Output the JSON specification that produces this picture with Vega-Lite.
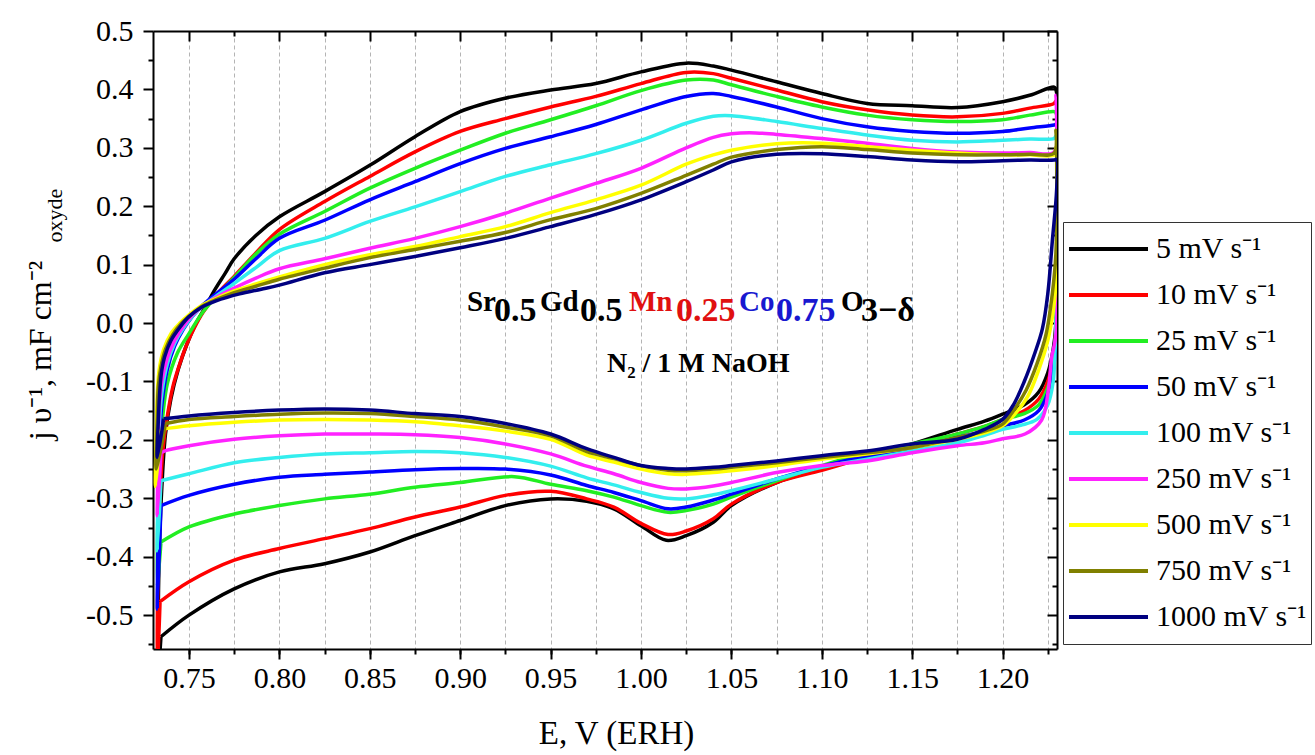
{
"$schema": "https://vega.github.io/schema/vega-lite/v6.json",
"width": 904, "height": 618,
"autosize": {"type": "none"},
"padding": {"left": 153, "top": 31, "right": 258, "bottom": 106},
"background": "white",
"config": {"view": {"stroke": null}, "font": "Liberation Serif",
  "axis": {"labelColor": "black", "titleColor": "black", "tickColor": "black", "domainColor": "black", "labelFont": "Liberation Serif", "titleFont": "Liberation Serif", "titleFontWeight": "normal"}},
"data": {"values": [
{"v":5,"E":0.7345,"j":-0.537},{"v":5,"E":0.733,"j":-0.6},{"v":5,"E":0.7335,"j":-0.4},{"v":5,"E":0.735,"j":-0.28},{"v":5,"E":0.737,"j":-0.19},{"v":5,"E":0.74,"j":-0.13},{"v":5,"E":0.744,"j":-0.08},{"v":5,"E":0.749,"j":-0.035},{"v":5,"E":0.754,"j":0.0},{"v":5,"E":0.7595,"j":0.03},{"v":5,"E":0.7645,"j":0.058},{"v":5,"E":0.77,"j":0.085},{"v":5,"E":0.775,"j":0.11},{"v":5,"E":0.787,"j":0.15},
{"v":5,"E":0.8,"j":0.182},{"v":5,"E":0.825,"j":0.225},{"v":5,"E":0.85,"j":0.27},{"v":5,"E":0.875,"j":0.319},{"v":5,"E":0.9,"j":0.362},{"v":5,"E":0.925,"j":0.385},{"v":5,"E":0.95,"j":0.399},{"v":5,"E":0.975,"j":0.41},{"v":5,"E":1.0,"j":0.43},{"v":5,"E":1.025,"j":0.445},{"v":5,"E":1.04,"j":0.44},{"v":5,"E":1.05,"j":0.433},{"v":5,"E":1.075,"j":0.413},{"v":5,"E":1.1,"j":0.393},{"v":5,"E":1.125,"j":0.376},{"v":5,"E":1.15,"j":0.372},{"v":5,"E":1.175,"j":0.369},{"v":5,"E":1.2,"j":0.379},{"v":5,"E":1.215,"j":0.39},{"v":5,"E":1.2285,"j":0.404},
{"v":5,"E":1.2295,"j":0.4},{"v":5,"E":1.2295,"j":0.0},{"v":5,"E":1.228,"j":-0.045},{"v":5,"E":1.225,"j":-0.085},{"v":5,"E":1.22,"j":-0.118},{"v":5,"E":1.212,"j":-0.14},{"v":5,"E":1.2,"j":-0.156},{"v":5,"E":1.19,"j":-0.168},{"v":5,"E":1.175,"j":-0.182},
{"v":5,"E":1.15,"j":-0.207},{"v":5,"E":1.125,"j":-0.228},{"v":5,"E":1.1,"j":-0.25},{"v":5,"E":1.075,"j":-0.273},{"v":5,"E":1.05,"j":-0.3125},{"v":5,"E":1.04,"j":-0.341},{"v":5,"E":1.025,"j":-0.364},{"v":5,"E":1.014,"j":-0.372},{"v":5,"E":1.0,"j":-0.347},{"v":5,"E":0.985,"j":-0.318},{"v":5,"E":0.97,"j":-0.305},{"v":5,"E":0.95,"j":-0.301},{"v":5,"E":0.925,"j":-0.3125},{"v":5,"E":0.9,"j":-0.338},{"v":5,"E":0.875,"j":-0.364},{"v":5,"E":0.85,"j":-0.392},{"v":5,"E":0.825,"j":-0.412},{"v":5,"E":0.8,"j":-0.426},{"v":5,"E":0.775,"j":-0.455},{"v":5,"E":0.75,"j":-0.5},{"v":5,"E":0.7345,"j":-0.537},

{"v":10,"E":0.734,"j":-0.477},{"v":10,"E":0.7325,"j":-0.6},{"v":10,"E":0.733,"j":-0.4},{"v":10,"E":0.734,"j":-0.3},{"v":10,"E":0.7355,"j":-0.22},{"v":10,"E":0.738,"j":-0.16},{"v":10,"E":0.741,"j":-0.11},{"v":10,"E":0.745,"j":-0.069},{"v":10,"E":0.749,"j":-0.035},{"v":10,"E":0.753,"j":-0.008},{"v":10,"E":0.7577,"j":0.018},{"v":10,"E":0.765,"j":0.048},{"v":10,"E":0.775,"j":0.08},{"v":10,"E":0.787,"j":0.12},
{"v":10,"E":0.8,"j":0.16},{"v":10,"E":0.825,"j":0.208},{"v":10,"E":0.85,"j":0.251},{"v":10,"E":0.875,"j":0.293},{"v":10,"E":0.9,"j":0.328},{"v":10,"E":0.925,"j":0.35},{"v":10,"E":0.95,"j":0.37},{"v":10,"E":0.975,"j":0.388},{"v":10,"E":1.0,"j":0.41},{"v":10,"E":1.025,"j":0.429},{"v":10,"E":1.04,"j":0.427},{"v":10,"E":1.05,"j":0.419},{"v":10,"E":1.075,"j":0.399},{"v":10,"E":1.1,"j":0.379},{"v":10,"E":1.125,"j":0.365},{"v":10,"E":1.15,"j":0.356},{"v":10,"E":1.175,"j":0.353},{"v":10,"E":1.2,"j":0.359},{"v":10,"E":1.215,"j":0.368},{"v":10,"E":1.2285,"j":0.376},
{"v":10,"E":1.2295,"j":0.38},{"v":10,"E":1.2295,"j":-0.01},{"v":10,"E":1.228,"j":-0.06},{"v":10,"E":1.225,"j":-0.1},{"v":10,"E":1.22,"j":-0.13},{"v":10,"E":1.212,"j":-0.15},{"v":10,"E":1.2,"j":-0.165},{"v":10,"E":1.19,"j":-0.177},{"v":10,"E":1.175,"j":-0.19},
{"v":10,"E":1.15,"j":-0.211},{"v":10,"E":1.125,"j":-0.23},{"v":10,"E":1.1,"j":-0.252},{"v":10,"E":1.075,"j":-0.273},{"v":10,"E":1.05,"j":-0.31},{"v":10,"E":1.04,"j":-0.335},{"v":10,"E":1.025,"j":-0.356},{"v":10,"E":1.015,"j":-0.362},{"v":10,"E":1.0,"j":-0.343},{"v":10,"E":0.985,"j":-0.315},{"v":10,"E":0.97,"j":-0.301},{"v":10,"E":0.95,"j":-0.288},{"v":10,"E":0.925,"j":-0.295},{"v":10,"E":0.9,"j":-0.315},{"v":10,"E":0.875,"j":-0.332},{"v":10,"E":0.85,"j":-0.352},{"v":10,"E":0.825,"j":-0.369},{"v":10,"E":0.8,"j":-0.386},{"v":10,"E":0.775,"j":-0.406},{"v":10,"E":0.75,"j":-0.443},{"v":10,"E":0.734,"j":-0.477},

{"v":25,"E":0.7345,"j":-0.375},{"v":25,"E":0.7325,"j":-0.45},{"v":25,"E":0.733,"j":-0.3},{"v":25,"E":0.734,"j":-0.22},{"v":25,"E":0.7355,"j":-0.16},{"v":25,"E":0.738,"j":-0.104},{"v":25,"E":0.7435,"j":-0.052},{"v":25,"E":0.75,"j":-0.018},{"v":25,"E":0.7577,"j":0.019},{"v":25,"E":0.765,"j":0.045},{"v":25,"E":0.775,"j":0.078},{"v":25,"E":0.787,"j":0.118},
{"v":25,"E":0.8,"j":0.152},{"v":25,"E":0.825,"j":0.191},{"v":25,"E":0.85,"j":0.231},{"v":25,"E":0.875,"j":0.265},{"v":25,"E":0.9,"j":0.296},{"v":25,"E":0.925,"j":0.325},{"v":25,"E":0.95,"j":0.348},{"v":25,"E":0.975,"j":0.372},{"v":25,"E":1.0,"j":0.398},{"v":25,"E":1.025,"j":0.416},{"v":25,"E":1.04,"j":0.416},{"v":25,"E":1.05,"j":0.408},{"v":25,"E":1.075,"j":0.388},{"v":25,"E":1.1,"j":0.37},{"v":25,"E":1.125,"j":0.356},{"v":25,"E":1.15,"j":0.348},{"v":25,"E":1.175,"j":0.345},{"v":25,"E":1.2,"j":0.348},{"v":25,"E":1.215,"j":0.356},{"v":25,"E":1.2285,"j":0.362},
{"v":25,"E":1.2295,"j":0.36},{"v":25,"E":1.2295,"j":-0.02},{"v":25,"E":1.228,"j":-0.07},{"v":25,"E":1.225,"j":-0.11},{"v":25,"E":1.22,"j":-0.14},{"v":25,"E":1.212,"j":-0.155},{"v":25,"E":1.2,"j":-0.165},{"v":25,"E":1.19,"j":-0.177},{"v":25,"E":1.175,"j":-0.19},
{"v":25,"E":1.15,"j":-0.207},{"v":25,"E":1.125,"j":-0.222},{"v":25,"E":1.1,"j":-0.244},{"v":25,"E":1.075,"j":-0.27},{"v":25,"E":1.05,"j":-0.298},{"v":25,"E":1.04,"j":-0.31},{"v":25,"E":1.025,"j":-0.321},{"v":25,"E":1.015,"j":-0.324},{"v":25,"E":1.0,"j":-0.3125},{"v":25,"E":0.985,"j":-0.298},{"v":25,"E":0.97,"j":-0.287},{"v":25,"E":0.95,"j":-0.276},{"v":25,"E":0.93,"j":-0.263},{"v":25,"E":0.9,"j":-0.273},{"v":25,"E":0.875,"j":-0.281},{"v":25,"E":0.85,"j":-0.293},{"v":25,"E":0.825,"j":-0.301},{"v":25,"E":0.8,"j":-0.3125},{"v":25,"E":0.775,"j":-0.327},{"v":25,"E":0.75,"j":-0.349},{"v":25,"E":0.7345,"j":-0.375},

{"v":50,"E":0.7345,"j":-0.3125},{"v":50,"E":0.7325,"j":-0.49},{"v":50,"E":0.733,"j":-0.33},{"v":50,"E":0.7335,"j":-0.22},{"v":50,"E":0.735,"j":-0.14},{"v":50,"E":0.738,"j":-0.08},{"v":50,"E":0.742,"j":-0.04},{"v":50,"E":0.747,"j":-0.01},{"v":50,"E":0.752,"j":0.012},{"v":50,"E":0.758,"j":0.032},{"v":50,"E":0.765,"j":0.05},{"v":50,"E":0.775,"j":0.075},{"v":50,"E":0.787,"j":0.11},
{"v":50,"E":0.8,"j":0.145},{"v":50,"E":0.825,"j":0.176},{"v":50,"E":0.85,"j":0.211},{"v":50,"E":0.875,"j":0.242},{"v":50,"E":0.9,"j":0.273},{"v":50,"E":0.925,"j":0.299},{"v":50,"E":0.95,"j":0.319},{"v":50,"E":0.975,"j":0.34},{"v":50,"E":1.0,"j":0.365},{"v":50,"E":1.025,"j":0.388},{"v":50,"E":1.04,"j":0.393},{"v":50,"E":1.05,"j":0.388},{"v":50,"E":1.075,"j":0.37},{"v":50,"E":1.1,"j":0.35},{"v":50,"E":1.125,"j":0.336},{"v":50,"E":1.15,"j":0.328},{"v":50,"E":1.175,"j":0.325},{"v":50,"E":1.2,"j":0.328},{"v":50,"E":1.215,"j":0.334},{"v":50,"E":1.2285,"j":0.339},
{"v":50,"E":1.2295,"j":0.34},{"v":50,"E":1.2295,"j":-0.03},{"v":50,"E":1.228,"j":-0.08},{"v":50,"E":1.225,"j":-0.12},{"v":50,"E":1.22,"j":-0.15},{"v":50,"E":1.212,"j":-0.166},{"v":50,"E":1.2,"j":-0.176},{"v":50,"E":1.19,"j":-0.185},{"v":50,"E":1.175,"j":-0.196},
{"v":50,"E":1.15,"j":-0.216},{"v":50,"E":1.125,"j":-0.228},{"v":50,"E":1.1,"j":-0.245},{"v":50,"E":1.075,"j":-0.267},{"v":50,"E":1.05,"j":-0.293},{"v":50,"E":1.04,"j":-0.303},{"v":50,"E":1.025,"j":-0.315},{"v":50,"E":1.015,"j":-0.318},{"v":50,"E":1.0,"j":-0.304},{"v":50,"E":0.985,"j":-0.29},{"v":50,"E":0.97,"j":-0.278},{"v":50,"E":0.95,"j":-0.26},{"v":50,"E":0.925,"j":-0.25},{"v":50,"E":0.9,"j":-0.249},{"v":50,"E":0.875,"j":-0.251},{"v":50,"E":0.85,"j":-0.255},{"v":50,"E":0.825,"j":-0.259},{"v":50,"E":0.8,"j":-0.264},{"v":50,"E":0.775,"j":-0.276},{"v":50,"E":0.75,"j":-0.295},{"v":50,"E":0.7345,"j":-0.3125},

{"v":100,"E":0.7345,"j":-0.27},{"v":100,"E":0.7325,"j":-0.39},{"v":100,"E":0.733,"j":-0.26},{"v":100,"E":0.7335,"j":-0.18},{"v":100,"E":0.735,"j":-0.12},{"v":100,"E":0.738,"j":-0.07},{"v":100,"E":0.742,"j":-0.035},{"v":100,"E":0.747,"j":-0.008},{"v":100,"E":0.752,"j":0.012},{"v":100,"E":0.758,"j":0.03},{"v":100,"E":0.765,"j":0.046},{"v":100,"E":0.775,"j":0.068},{"v":100,"E":0.787,"j":0.095},
{"v":100,"E":0.8,"j":0.124},{"v":100,"E":0.825,"j":0.145},{"v":100,"E":0.85,"j":0.174},{"v":100,"E":0.875,"j":0.199},{"v":100,"E":0.9,"j":0.225},{"v":100,"E":0.925,"j":0.251},{"v":100,"E":0.95,"j":0.271},{"v":100,"E":0.975,"j":0.29},{"v":100,"E":1.0,"j":0.313},{"v":100,"E":1.025,"j":0.342},{"v":100,"E":1.04,"j":0.354},{"v":100,"E":1.05,"j":0.355},{"v":100,"E":1.075,"j":0.345},{"v":100,"E":1.1,"j":0.333},{"v":100,"E":1.125,"j":0.322},{"v":100,"E":1.15,"j":0.313},{"v":100,"E":1.175,"j":0.31},{"v":100,"E":1.2,"j":0.313},{"v":100,"E":1.215,"j":0.315},{"v":100,"E":1.2285,"j":0.316},
{"v":100,"E":1.2295,"j":0.32},{"v":100,"E":1.2295,"j":0.0},{"v":100,"E":1.2288,"j":-0.06},{"v":100,"E":1.228,"j":-0.1},{"v":100,"E":1.225,"j":-0.14},{"v":100,"E":1.219,"j":-0.165},{"v":100,"E":1.21,"j":-0.175},{"v":100,"E":1.2,"j":-0.182},{"v":100,"E":1.19,"j":-0.192},{"v":100,"E":1.175,"j":-0.205},
{"v":100,"E":1.15,"j":-0.219},{"v":100,"E":1.125,"j":-0.233},{"v":100,"E":1.1,"j":-0.247},{"v":100,"E":1.075,"j":-0.267},{"v":100,"E":1.05,"j":-0.287},{"v":100,"E":1.04,"j":-0.294},{"v":100,"E":1.025,"j":-0.301},{"v":100,"E":1.015,"j":-0.3},{"v":100,"E":1.0,"j":-0.29},{"v":100,"E":0.985,"j":-0.277},{"v":100,"E":0.97,"j":-0.265},{"v":100,"E":0.95,"j":-0.245},{"v":100,"E":0.925,"j":-0.23},{"v":100,"E":0.9,"j":-0.222},{"v":100,"E":0.875,"j":-0.22},{"v":100,"E":0.85,"j":-0.222},{"v":100,"E":0.825,"j":-0.224},{"v":100,"E":0.8,"j":-0.23},{"v":100,"E":0.775,"j":-0.239},{"v":100,"E":0.75,"j":-0.258},{"v":100,"E":0.7345,"j":-0.27},

{"v":250,"E":0.7345,"j":-0.222},{"v":250,"E":0.7325,"j":-0.33},{"v":250,"E":0.733,"j":-0.22},{"v":250,"E":0.7335,"j":-0.15},{"v":250,"E":0.735,"j":-0.1},{"v":250,"E":0.738,"j":-0.06},{"v":250,"E":0.742,"j":-0.03},{"v":250,"E":0.747,"j":-0.005},{"v":250,"E":0.752,"j":0.014},{"v":250,"E":0.758,"j":0.03},{"v":250,"E":0.765,"j":0.044},{"v":250,"E":0.775,"j":0.06},{"v":250,"E":0.787,"j":0.077},
{"v":250,"E":0.8,"j":0.093},{"v":250,"E":0.825,"j":0.11},{"v":250,"E":0.85,"j":0.128},{"v":250,"E":0.875,"j":0.145},{"v":250,"E":0.9,"j":0.165},{"v":250,"E":0.925,"j":0.188},{"v":250,"E":0.95,"j":0.214},{"v":250,"E":0.975,"j":0.239},{"v":250,"E":1.0,"j":0.265},{"v":250,"E":1.025,"j":0.3},{"v":250,"E":1.04,"j":0.318},{"v":250,"E":1.05,"j":0.324},{"v":250,"E":1.06,"j":0.326},{"v":250,"E":1.075,"j":0.323},{"v":250,"E":1.1,"j":0.316},{"v":250,"E":1.125,"j":0.308},{"v":250,"E":1.15,"j":0.299},{"v":250,"E":1.175,"j":0.293},{"v":250,"E":1.2,"j":0.291},{"v":250,"E":1.215,"j":0.292},{"v":250,"E":1.2285,"j":0.293},
{"v":250,"E":1.2295,"j":0.39},{"v":250,"E":1.2295,"j":-0.02},{"v":250,"E":1.2271,"j":-0.06},{"v":250,"E":1.2253,"j":-0.115},{"v":250,"E":1.2216,"j":-0.166},{"v":250,"E":1.2124,"j":-0.19},{"v":250,"E":1.2,"j":-0.198},{"v":250,"E":1.19,"j":-0.205},{"v":250,"E":1.175,"j":-0.21},
{"v":250,"E":1.15,"j":-0.222},{"v":250,"E":1.125,"j":-0.236},{"v":250,"E":1.1,"j":-0.244},{"v":250,"E":1.075,"j":-0.256},{"v":250,"E":1.05,"j":-0.273},{"v":250,"E":1.04,"j":-0.279},{"v":250,"E":1.025,"j":-0.284},{"v":250,"E":1.015,"j":-0.283},{"v":250,"E":1.0,"j":-0.273},{"v":250,"E":0.985,"j":-0.258},{"v":250,"E":0.97,"j":-0.245},{"v":250,"E":0.95,"j":-0.224},{"v":250,"E":0.925,"j":-0.207},{"v":250,"E":0.9,"j":-0.196},{"v":250,"E":0.875,"j":-0.191},{"v":250,"E":0.85,"j":-0.19},{"v":250,"E":0.825,"j":-0.19},{"v":250,"E":0.8,"j":-0.193},{"v":250,"E":0.775,"j":-0.199},{"v":250,"E":0.75,"j":-0.21},{"v":250,"E":0.7375,"j":-0.218},{"v":250,"E":0.7345,"j":-0.222},

{"v":500,"E":0.7345,"j":-0.182},{"v":500,"E":0.7315,"j":-0.28},{"v":500,"E":0.732,"j":-0.18},{"v":500,"E":0.7325,"j":-0.12},{"v":500,"E":0.7335,"j":-0.08},{"v":500,"E":0.736,"j":-0.045},{"v":500,"E":0.74,"j":-0.018},{"v":500,"E":0.745,"j":0.0},{"v":500,"E":0.75,"j":0.014},{"v":500,"E":0.757,"j":0.03},{"v":500,"E":0.765,"j":0.042},{"v":500,"E":0.775,"j":0.055},{"v":500,"E":0.787,"j":0.067},
{"v":500,"E":0.8,"j":0.079},{"v":500,"E":0.825,"j":0.1},{"v":500,"E":0.85,"j":0.117},{"v":500,"E":0.875,"j":0.131},{"v":500,"E":0.9,"j":0.148},{"v":500,"E":0.925,"j":0.165},{"v":500,"E":0.95,"j":0.189},{"v":500,"E":0.975,"j":0.211},{"v":500,"E":1.0,"j":0.236},{"v":500,"E":1.025,"j":0.272},{"v":500,"E":1.04,"j":0.288},{"v":500,"E":1.05,"j":0.296},{"v":500,"E":1.075,"j":0.307},{"v":500,"E":1.1,"j":0.308},{"v":500,"E":1.125,"j":0.302},{"v":500,"E":1.15,"j":0.296},{"v":500,"E":1.175,"j":0.291},{"v":500,"E":1.2,"j":0.288},{"v":500,"E":1.215,"j":0.288},{"v":500,"E":1.2285,"j":0.288},
{"v":500,"E":1.2295,"j":0.3},{"v":500,"E":1.2295,"j":0.07},{"v":500,"E":1.228,"j":0.02},{"v":500,"E":1.225,"j":-0.03},{"v":500,"E":1.22,"j":-0.08},{"v":500,"E":1.214,"j":-0.125},{"v":500,"E":1.207,"j":-0.155},{"v":500,"E":1.2,"j":-0.176},{"v":500,"E":1.19,"j":-0.188},{"v":500,"E":1.175,"j":-0.199},
{"v":500,"E":1.15,"j":-0.213},{"v":500,"E":1.125,"j":-0.224},{"v":500,"E":1.1,"j":-0.233},{"v":500,"E":1.075,"j":-0.244},{"v":500,"E":1.05,"j":-0.253},{"v":500,"E":1.04,"j":-0.256},{"v":500,"E":1.025,"j":-0.259},{"v":500,"E":1.015,"j":-0.258},{"v":500,"E":1.0,"j":-0.25},{"v":500,"E":0.985,"j":-0.238},{"v":500,"E":0.97,"j":-0.226},{"v":500,"E":0.95,"j":-0.199},{"v":500,"E":0.925,"j":-0.185},{"v":500,"E":0.9,"j":-0.176},{"v":500,"E":0.875,"j":-0.169},{"v":500,"E":0.85,"j":-0.166},{"v":500,"E":0.825,"j":-0.165},{"v":500,"E":0.8,"j":-0.166},{"v":500,"E":0.775,"j":-0.17},{"v":500,"E":0.75,"j":-0.176},{"v":500,"E":0.7345,"j":-0.182},

{"v":750,"E":0.737,"j":-0.172},{"v":750,"E":0.732,"j":-0.25},{"v":750,"E":0.7325,"j":-0.16},{"v":750,"E":0.733,"j":-0.11},{"v":750,"E":0.7345,"j":-0.075},{"v":750,"E":0.737,"j":-0.045},{"v":750,"E":0.741,"j":-0.02},{"v":750,"E":0.746,"j":0.0},{"v":750,"E":0.751,"j":0.014},{"v":750,"E":0.758,"j":0.03},{"v":750,"E":0.765,"j":0.04},{"v":750,"E":0.775,"j":0.052},{"v":750,"E":0.787,"j":0.063},
{"v":750,"E":0.8,"j":0.075},{"v":750,"E":0.825,"j":0.094},{"v":750,"E":0.85,"j":0.112},{"v":750,"E":0.875,"j":0.126},{"v":750,"E":0.9,"j":0.14},{"v":750,"E":0.925,"j":0.155},{"v":750,"E":0.95,"j":0.177},{"v":750,"E":0.975,"j":0.196},{"v":750,"E":1.0,"j":0.222},{"v":750,"E":1.025,"j":0.253},{"v":750,"E":1.04,"j":0.272},{"v":750,"E":1.05,"j":0.284},{"v":750,"E":1.075,"j":0.297},{"v":750,"E":1.1,"j":0.302},{"v":750,"E":1.125,"j":0.297},{"v":750,"E":1.15,"j":0.291},{"v":750,"E":1.175,"j":0.288},{"v":750,"E":1.2,"j":0.288},{"v":750,"E":1.215,"j":0.289},{"v":750,"E":1.2285,"j":0.291},
{"v":750,"E":1.2295,"j":0.33},{"v":750,"E":1.2295,"j":0.12},{"v":750,"E":1.2275,"j":0.05},{"v":750,"E":1.224,"j":-0.02},{"v":750,"E":1.219,"j":-0.07},{"v":750,"E":1.213,"j":-0.115},{"v":750,"E":1.206,"j":-0.15},{"v":750,"E":1.2,"j":-0.173},{"v":750,"E":1.19,"j":-0.185},{"v":750,"E":1.175,"j":-0.196},
{"v":750,"E":1.15,"j":-0.213},{"v":750,"E":1.125,"j":-0.222},{"v":750,"E":1.1,"j":-0.23},{"v":750,"E":1.075,"j":-0.239},{"v":750,"E":1.05,"j":-0.247},{"v":750,"E":1.04,"j":-0.25},{"v":750,"E":1.025,"j":-0.253},{"v":750,"E":1.015,"j":-0.252},{"v":750,"E":1.0,"j":-0.244},{"v":750,"E":0.985,"j":-0.232},{"v":750,"E":0.97,"j":-0.22},{"v":750,"E":0.95,"j":-0.193},{"v":750,"E":0.925,"j":-0.178},{"v":750,"E":0.9,"j":-0.166},{"v":750,"E":0.875,"j":-0.16},{"v":750,"E":0.85,"j":-0.155},{"v":750,"E":0.825,"j":-0.154},{"v":750,"E":0.8,"j":-0.156},{"v":750,"E":0.775,"j":-0.16},{"v":750,"E":0.75,"j":-0.165},{"v":750,"E":0.737,"j":-0.172},

{"v":1000,"E":0.736,"j":-0.164},{"v":1000,"E":0.7325,"j":-0.23},{"v":1000,"E":0.733,"j":-0.17},{"v":1000,"E":0.734,"j":-0.11},{"v":1000,"E":0.735,"j":-0.08},{"v":1000,"E":0.7365,"j":-0.058},{"v":1000,"E":0.74,"j":-0.03},{"v":1000,"E":0.745,"j":-0.007},{"v":1000,"E":0.75,"j":0.011},{"v":1000,"E":0.757,"j":0.027},{"v":1000,"E":0.765,"j":0.038},{"v":1000,"E":0.778,"j":0.05},{"v":1000,"E":0.79,"j":0.058},
{"v":1000,"E":0.8,"j":0.065},{"v":1000,"E":0.825,"j":0.086},{"v":1000,"E":0.85,"j":0.1},{"v":1000,"E":0.875,"j":0.114},{"v":1000,"E":0.9,"j":0.129},{"v":1000,"E":0.925,"j":0.145},{"v":1000,"E":0.95,"j":0.165},{"v":1000,"E":0.975,"j":0.186},{"v":1000,"E":1.0,"j":0.211},{"v":1000,"E":1.025,"j":0.242},{"v":1000,"E":1.04,"j":0.262},{"v":1000,"E":1.05,"j":0.276},{"v":1000,"E":1.075,"j":0.289},{"v":1000,"E":1.1,"j":0.29},{"v":1000,"E":1.125,"j":0.285},{"v":1000,"E":1.15,"j":0.279},{"v":1000,"E":1.175,"j":0.276},{"v":1000,"E":1.2,"j":0.278},{"v":1000,"E":1.215,"j":0.279},{"v":1000,"E":1.2285,"j":0.279},
{"v":1000,"E":1.2299,"j":0.28},{"v":1000,"E":1.2299,"j":0.228},{"v":1000,"E":1.2275,"j":0.14},{"v":1000,"E":1.225,"j":0.05},{"v":1000,"E":1.222,"j":-0.01},{"v":1000,"E":1.218,"j":-0.05},{"v":1000,"E":1.212,"j":-0.1},{"v":1000,"E":1.206,"j":-0.14},{"v":1000,"E":1.2,"j":-0.165},{"v":1000,"E":1.19,"j":-0.182},{"v":1000,"E":1.175,"j":-0.199},
{"v":1000,"E":1.15,"j":-0.207},{"v":1000,"E":1.125,"j":-0.219},{"v":1000,"E":1.1,"j":-0.227},{"v":1000,"E":1.075,"j":-0.236},{"v":1000,"E":1.05,"j":-0.244},{"v":1000,"E":1.04,"j":-0.247},{"v":1000,"E":1.025,"j":-0.25},{"v":1000,"E":1.015,"j":-0.249},{"v":1000,"E":1.0,"j":-0.244},{"v":1000,"E":0.985,"j":-0.23},{"v":1000,"E":0.97,"j":-0.215},{"v":1000,"E":0.95,"j":-0.19},{"v":1000,"E":0.925,"j":-0.172},{"v":1000,"E":0.9,"j":-0.16},{"v":1000,"E":0.875,"j":-0.155},{"v":1000,"E":0.85,"j":-0.149},{"v":1000,"E":0.825,"j":-0.147},{"v":1000,"E":0.8,"j":-0.149},{"v":1000,"E":0.775,"j":-0.153},{"v":1000,"E":0.75,"j":-0.159},{"v":1000,"E":0.736,"j":-0.164}
]},
"layer": [
{
  "data": {"values": [{}]},
  "mark": {"type": "point", "opacity": 0},
  "encoding": {
    "x": {"datum": 0.9, "type": "quantitative", "scale": {"domain": [0.7301, 1.2301], "nice": false, "zero": false},
      "axis": {"orient": "bottom", "values": [0.75,0.775,0.8,0.825,0.85,0.875,0.9,0.925,0.95,0.975,1.0,1.025,1.05,1.075,1.1,1.125,1.15,1.175,1.2,1.225], "labels": false, "domain": false, "tickSize": 5, "tickWidth": 2, "grid": true, "gridDash": [4, 3], "gridColor": "#b4b4b4", "gridWidth": 1, "title": null}},
    "y": {"datum": 0, "type": "quantitative", "scale": {"domain": [-0.558, 0.5], "nice": false, "zero": false},
      "axis": {"orient": "left", "values": [-0.55,-0.45,-0.35,-0.25,-0.15,-0.05,0.05,0.15,0.25,0.35,0.45], "labels": false, "domain": false, "tickSize": 5, "tickWidth": 2, "grid": false,
        "title": "oxyde", "titleFontSize": 22, "titleAngle": 270, "titleX": -99, "titleY": 184, "titleAlign": "center", "titleBaseline": "middle"}}
  }
},
{
  "data": {"values": [{}]},
  "mark": {"type": "point", "opacity": 0},
  "encoding": {
    "x": {"datum": 0.9, "type": "quantitative", "scale": {"domain": [0.7301, 1.2301], "nice": false, "zero": false},
      "axis": {"orient": "top", "values": [0.775,0.825,0.875,0.925,0.975,1.025,1.075,1.125,1.175,1.225], "labels": false, "domain": false, "tickSize": -5, "tickWidth": 2, "grid": false, "title": null}},
    "y": {"datum": 0, "type": "quantitative", "scale": {"domain": [-0.558, 0.5], "nice": false, "zero": false},
      "axis": {"orient": "right", "values": [-0.55,-0.45,-0.35,-0.25,-0.15,-0.05,0.05,0.15,0.25,0.35,0.45], "labels": false, "domain": false, "tickSize": -5, "tickWidth": 2, "grid": false, "title": null}}
  }
},
{
  "data": {"values": [{}]},
  "mark": {"type": "point", "opacity": 0},
  "encoding": {
    "x": {"datum": 0.9, "type": "quantitative", "scale": {"domain": [0.7301, 1.2301], "nice": false, "zero": false},
      "axis": {"orient": "top", "values": [0.75,0.8,0.85,0.9,0.95,1.0,1.05,1.1,1.15,1.2], "labels": false, "domain": true, "domainWidth": 2, "tickSize": -10, "tickWidth": 2, "grid": false, "title": null}},
    "y": {"datum": 0, "type": "quantitative", "scale": {"domain": [-0.558, 0.5], "nice": false, "zero": false},
      "axis": {"orient": "right", "values": [-0.5,-0.4,-0.3,-0.2,-0.1,0,0.1,0.2,0.3,0.4,0.5], "labels": false, "domain": true, "domainWidth": 2, "tickSize": -10, "tickWidth": 2, "grid": false, "title": null}}
  }
},
{
  "mark": {"type": "line", "strokeWidth": 3.5, "clip": true, "strokeJoin": "round", "interpolate": "catmull-rom"},
  "encoding": {
    "x": {"field": "E", "type": "quantitative", "scale": {"domain": [0.7301, 1.2301], "nice": false, "zero": false},
      "axis": {"orient": "bottom", "values": [0.75,0.8,0.85,0.9,0.95,1.0,1.05,1.1,1.15,1.2], "format": ".2f", "labelFontSize": 30, "labelPadding": 4, "tickSize": 10, "tickWidth": 2, "domain": true, "domainWidth": 2, "grid": false,
        "title": "E, V (ERH)", "titleFontSize": 33, "titleX": 463, "titleY": 84, "titleAlign": "center", "titleBaseline": "middle"}},
    "y": {"field": "j", "type": "quantitative", "scale": {"domain": [-0.558, 0.5], "nice": false, "zero": false},
      "axis": {"orient": "left", "values": [-0.5,-0.4,-0.3,-0.2,-0.1,0,0.1,0.2,0.3,0.4,0.5], "labelExpr": "replace(format(datum.value, '.1f'), '\u2212', '-')", "labelFontSize": 30, "labelPadding": 10, "tickSize": 10, "tickWidth": 2, "domain": true, "domainWidth": 2, "grid": false,
        "title": "j υ⁻¹, mF cm⁻²", "titleFontSize": 32, "titleAngle": 270, "titleX": -113, "titleY": 319, "titleAlign": "center", "titleBaseline": "middle"}},
    "color": {"field": "v", "type": "nominal",
      "scale": {"domain": [5,10,25,50,100,250,500,750,1000], "range": ["#000000","#ff0000","#22ee22","#0000ff","#33eeee","#ff22ff","#ffff00","#808000","#000080"]},
      "legend": {"orient": "none", "legendX": 910, "legendY": 191, "title": null, "symbolType": "stroke", "symbolSize": 6241, "symbolStrokeWidth": 4,
        "labelExpr": "datum.label + ' mV s⁻¹'", "labelFontSize": 30, "labelFont": "Liberation Serif", "labelColor": "black", "labelOffset": 6, "labelLimit": 400,
        "clipHeight": 46, "rowPadding": 0, "padding": 4, "strokeColor": "#333333", "fillColor": "white"}},
    "order": {"value": null}
  }
},
{"data": {"values": [{}]}, "mark": {"type": "text", "align": "left", "baseline": "alphabetic", "font": "Liberation Serif", "fontWeight": "bold", "fontSize": 29, "color": "black"},
 "encoding": {"x": {"datum": 0.90376, "type": "quantitative", "scale": {"domain": [0.7301, 1.2301], "nice": false, "zero": false}, "axis": null}, "y": {"datum": 0.0205, "type": "quantitative", "scale": {"domain": [-0.558, 0.5], "nice": false, "zero": false}, "axis": null}, "text": {"value": "Sr"}}},
{"data": {"values": [{}]}, "mark": {"type": "text", "align": "left", "baseline": "alphabetic", "font": "Liberation Serif", "fontWeight": "bold", "fontSize": 34, "color": "black"},
 "encoding": {"x": {"datum": 0.9187, "type": "quantitative", "scale": {"domain": [0.7301, 1.2301], "nice": false, "zero": false}, "axis": null}, "y": {"datum": 0.0034, "type": "quantitative", "scale": {"domain": [-0.558, 0.5], "nice": false, "zero": false}, "axis": null}, "text": {"value": "0.5"}}},
{"data": {"values": [{}]}, "mark": {"type": "text", "align": "left", "baseline": "alphabetic", "font": "Liberation Serif", "fontWeight": "bold", "fontSize": 29, "color": "black"},
 "encoding": {"x": {"datum": 0.94414, "type": "quantitative", "scale": {"domain": [0.7301, 1.2301], "nice": false, "zero": false}, "axis": null}, "y": {"datum": 0.0205, "type": "quantitative", "scale": {"domain": [-0.558, 0.5], "nice": false, "zero": false}, "axis": null}, "text": {"value": "Gd"}}},
{"data": {"values": [{}]}, "mark": {"type": "text", "align": "left", "baseline": "alphabetic", "font": "Liberation Serif", "fontWeight": "bold", "fontSize": 34, "color": "black"},
 "encoding": {"x": {"datum": 0.96626, "type": "quantitative", "scale": {"domain": [0.7301, 1.2301], "nice": false, "zero": false}, "axis": null}, "y": {"datum": 0.0034, "type": "quantitative", "scale": {"domain": [-0.558, 0.5], "nice": false, "zero": false}, "axis": null}, "text": {"value": "0.5"}}},
{"data": {"values": [{}]}, "mark": {"type": "text", "align": "left", "baseline": "alphabetic", "font": "Liberation Serif", "fontWeight": "bold", "fontSize": 29, "color": "#e01010"},
 "encoding": {"x": {"datum": 0.99336, "type": "quantitative", "scale": {"domain": [0.7301, 1.2301], "nice": false, "zero": false}, "axis": null}, "y": {"datum": 0.0205, "type": "quantitative", "scale": {"domain": [-0.558, 0.5], "nice": false, "zero": false}, "axis": null}, "text": {"value": "Mn"}}},
{"data": {"values": [{}]}, "mark": {"type": "text", "align": "left", "baseline": "alphabetic", "font": "Liberation Serif", "fontWeight": "bold", "fontSize": 34, "color": "#e01010"},
 "encoding": {"x": {"datum": 1.01936, "type": "quantitative", "scale": {"domain": [0.7301, 1.2301], "nice": false, "zero": false}, "axis": null}, "y": {"datum": 0.0034, "type": "quantitative", "scale": {"domain": [-0.558, 0.5], "nice": false, "zero": false}, "axis": null}, "text": {"value": "0.25"}}},
{"data": {"values": [{}]}, "mark": {"type": "text", "align": "left", "baseline": "alphabetic", "font": "Liberation Serif", "fontWeight": "bold", "fontSize": 29, "color": "#1818d0"},
 "encoding": {"x": {"datum": 1.0542, "type": "quantitative", "scale": {"domain": [0.7301, 1.2301], "nice": false, "zero": false}, "axis": null}, "y": {"datum": 0.0205, "type": "quantitative", "scale": {"domain": [-0.558, 0.5], "nice": false, "zero": false}, "axis": null}, "text": {"value": "Co"}}},
{"data": {"values": [{}]}, "mark": {"type": "text", "align": "left", "baseline": "alphabetic", "font": "Liberation Serif", "fontWeight": "bold", "fontSize": 34, "color": "#1818d0"},
 "encoding": {"x": {"datum": 1.07467, "type": "quantitative", "scale": {"domain": [0.7301, 1.2301], "nice": false, "zero": false}, "axis": null}, "y": {"datum": 0.0034, "type": "quantitative", "scale": {"domain": [-0.558, 0.5], "nice": false, "zero": false}, "axis": null}, "text": {"value": "0.75"}}},
{"data": {"values": [{}]}, "mark": {"type": "text", "align": "left", "baseline": "alphabetic", "font": "Liberation Serif", "fontWeight": "bold", "fontSize": 29, "color": "black"},
 "encoding": {"x": {"datum": 1.11062, "type": "quantitative", "scale": {"domain": [0.7301, 1.2301], "nice": false, "zero": false}, "axis": null}, "y": {"datum": 0.0205, "type": "quantitative", "scale": {"domain": [-0.558, 0.5], "nice": false, "zero": false}, "axis": null}, "text": {"value": "O"}}},
{"data": {"values": [{}]}, "mark": {"type": "text", "align": "left", "baseline": "alphabetic", "font": "Liberation Serif", "fontWeight": "bold", "fontSize": 34, "color": "black"},
 "encoding": {"x": {"datum": 1.12168, "type": "quantitative", "scale": {"domain": [0.7301, 1.2301], "nice": false, "zero": false}, "axis": null}, "y": {"datum": 0.0034, "type": "quantitative", "scale": {"domain": [-0.558, 0.5], "nice": false, "zero": false}, "axis": null}, "text": {"value": "3−δ"}}},
{"data": {"values": [{}]}, "mark": {"type": "text", "align": "left", "baseline": "alphabetic", "font": "Liberation Serif", "fontWeight": "bold", "fontSize": 28, "color": "black"},
 "encoding": {"x": {"datum": 0.98119, "type": "quantitative", "scale": {"domain": [0.7301, 1.2301], "nice": false, "zero": false}, "axis": null}, "y": {"datum": -0.0839, "type": "quantitative", "scale": {"domain": [-0.558, 0.5], "nice": false, "zero": false}, "axis": null}, "text": {"value": "N₂ / 1 M NaOH"}}}
],
"resolve": {"axis": {"x": "independent", "y": "independent"}}
}
